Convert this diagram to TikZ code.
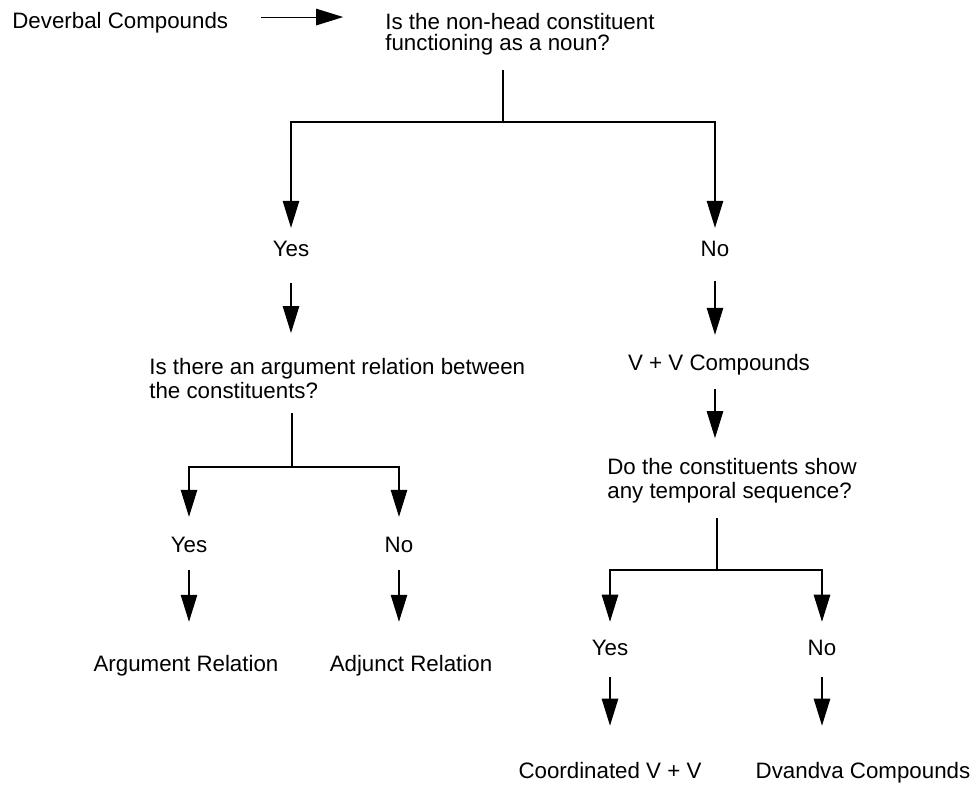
\documentclass[tikz,border=0pt]{standalone}
\usepackage{fontspec}
\setmainfont{Liberation Sans}
\usetikzlibrary{arrows.meta}

\begin{document}
\begin{tikzpicture}[
    x=0.02cm,y=-0.02cm,
    lbl/.style={inner sep=0pt,anchor=base,text height=9.1pt,text depth=2.7pt,font=\fontsize{12.7}{13.6}\selectfont},
    ques/.style={inner sep=0pt,anchor=north west,align=left,font=\fontsize{12.7}{13.6}\selectfont},
    arrow/.style={-{Triangle[length=5.4mm,width=3.3mm]},line width=0.6pt},
    link/.style={line width=0.6pt}
  ]
    \useasboundingbox (0,0) rectangle (975,787);
    % top row
    \node[lbl,anchor=base west] (dev) at (12,29) {Deverbal Compounds};
    \node[ques,font=\fontsize{12.7}{12}\selectfont] (q1) at (385,13) {Is the non-head constituent\\functioning as a noun?};
    % first answers
    \node[lbl] (yesA) at (291,257) {Yes};
    \node[lbl] (noA) at (715,257) {No};
    \node[ques] (q2) at (149,358) {Is there an argument relation between\\the constituents?};
    \node[lbl] (vv) at (719,371) {V + V Compounds};
    \node[ques] (q3) at (607,458) {Do the constituents show\\any temporal sequence?};
    % left branch
    \node[lbl] (yesB) at (189,553) {Yes};
    \node[lbl] (noB) at (399,553) {No};
    \node[lbl] (arg) at (186,672) {Argument Relation};
    \node[lbl] (adj) at (411,672) {Adjunct Relation};
    % right branch
    \node[lbl] (yesC) at (610,656) {Yes};
    \node[lbl] (noC) at (822,656) {No};
    \node[lbl] (coord) at (610,778) {Coordinated V + V};
    \node[lbl] (dva) at (863,778) {Dvandva Compounds};
    % branch points
    \coordinate (b1) at (503,122);
    \coordinate (b2) at (292,467);
    \coordinate (b3) at (717,570);

    \draw[arrow,shorten <=18.7pt,shorten >=23.8pt] ([yshift=3.6pt]dev.east) -- ([yshift=3.6pt]dev.east -| q1.west);
    \draw[link] (b1) -- ++(0,-52);
    \draw[arrow,shorten >=7.3pt] (b1) -| (yesA);
    \draw[arrow,shorten >=7.3pt] (b1) -| (noA);
    \draw[arrow,shorten <=12pt,shorten >=14.2pt] (yesA) -- (yesA |- q2.north);
    \draw[arrow,shorten <=11pt,shorten >=11.3pt] (noA) -- (noA |- vv.north);
    \draw[arrow,shorten <=7.5pt,shorten >=11.3pt] (vv.south -| noA) -- (noA |- q3.north);

    \draw[link] (b2) -- ++(0,-54);
    \draw[arrow,shorten >=11.3pt] (b2) -| (yesB);
    \draw[arrow,shorten >=11.3pt] (b2) -| (noB);
    \draw[arrow,shorten <=6.9pt,shorten >=19.3pt] (yesB) -- (yesB |- arg.north);
    \draw[arrow,shorten <=6.9pt,shorten >=19.3pt] (noB) -- (noB |- adj.north);

    \draw[link] (b3) -- ++(0,-52);
    \draw[arrow,shorten >=10.2pt] (b3) -| (yesC);
    \draw[arrow,shorten >=10.2pt] (b3) -| (noC);
    \draw[arrow,shorten <=9.2pt,shorten >=20.5pt] (yesC) -- (yesC |- coord.north);
    \draw[arrow,shorten <=9.2pt,shorten >=20.5pt] (noC) -- (noC |- dva.north);
\end{tikzpicture}
\end{document}
